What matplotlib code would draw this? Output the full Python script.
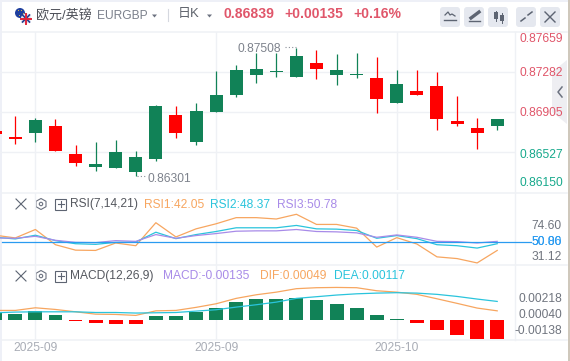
import matplotlib
matplotlib.use('Agg')
import matplotlib.pyplot as plt
from matplotlib.patches import Circle, FancyBboxPatch, Polygon, Rectangle

plt.rcParams['font.family'] = ['Liberation Sans', 'Noto Sans CJK SC', 'DejaVu Sans']

# Candles, index -1 is the one cut off at the left edge
days = list(range(-1, 25))
opens = [0.86726, 0.86673, 0.86707, 0.86773, 0.86509, 0.86387, 0.86377, 0.86339, 0.86462, 0.86877, 0.86622, 0.86905, 0.87065,
         0.87254, 0.87282, 0.87235, 0.87367, 0.87254, 0.87254, 0.87225, 0.86990, 0.87103, 0.87150, 0.86820, 0.86754, 0.86773]
closes = [0.86701, 0.86651, 0.86830, 0.86537, 0.86424, 0.86415, 0.86528, 0.86481, 0.86962, 0.86707, 0.86914, 0.87065, 0.87301,
          0.87310, 0.87291, 0.87433, 0.87310, 0.87301, 0.87263, 0.87028, 0.87169, 0.87065, 0.86839, 0.86792, 0.86707, 0.86839]
highs = [0.86726, 0.86867, 0.86852, 0.86839, 0.86594, 0.86622, 0.86641, 0.86537, 0.86971, 0.86962, 0.86990, 0.87291, 0.87348,
         0.87461, 0.87461, 0.87508, 0.87489, 0.87452, 0.87461, 0.87423, 0.87301, 0.87301, 0.87282, 0.87056, 0.86848, 0.86839]
lows = [0.86701, 0.86603, 0.86622, 0.86537, 0.86396, 0.86349, 0.86377, 0.86301, 0.86443, 0.86660, 0.86594, 0.86905, 0.87046,
        0.87178, 0.87235, 0.87235, 0.87216, 0.87159, 0.87225, 0.86896, 0.86990, 0.87065, 0.86735, 0.86773, 0.86556, 0.86735]

# RSI
rsi1 = [59.5, 55.7, 67.5, 46.2, 38.6, 38.2, 48.6, 44.8, 77.0, 57.1, 68.4, 75.5, 84.1,
        84.1, 82.2, 88.8, 74.6, 74.6, 69.4, 42.9, 56.1, 47.2, 29.2, 26.8, 20.7, 38.2]
rsi2 = [56.6, 54.3, 59.5, 51.9, 47.6, 46.7, 49.5, 50.0, 63.7, 54.7, 60.4, 64.7, 69.9,
        69.9, 69.9, 73.2, 68.4, 68.0, 66.1, 55.2, 59.0, 54.7, 46.2, 44.8, 41.5, 47.6]
rsi3 = [55.7, 55.2, 58.0, 52.4, 49.5, 49.1, 51.9, 50.9, 60.4, 55.2, 59.0, 61.8, 65.1,
        65.6, 65.6, 67.5, 64.7, 64.2, 62.8, 56.6, 59.9, 56.6, 50.9, 50.5, 48.6, 50.9]

# MACD
dif = [0.00070, 0.00070, 0.00089, 0.00077, 0.00060, 0.00043, 0.00041, 0.00034, 0.00067, 0.00070, 0.00092, 0.00118, 0.00157,
       0.00183, 0.00202, 0.00227, 0.00234, 0.00236, 0.00234, 0.00212, 0.00202, 0.00186, 0.00154, 0.00121, 0.00087, 0.00067]
dea = [0.00053, 0.00058, 0.00060, 0.00060, 0.00060, 0.00055, 0.00055, 0.00051, 0.00053, 0.00055, 0.00065, 0.00075, 0.00094,
       0.00111, 0.00130, 0.00157, 0.00169, 0.00181, 0.00190, 0.00195, 0.00198, 0.00195, 0.00186, 0.00171, 0.00152, 0.00135]
hist = [0.00048, 0.00046, 0.00065, 0.00036, -0.00005, -0.00022, -0.00027, -0.00027, 0.00031, 0.00031, 0.00060, 0.00087, 0.00130,
        0.00152, 0.00152, 0.00159, 0.00145, 0.00116, 0.00087, 0.00036, 0.00007, -0.00022, -0.00072, -0.00108, -0.00137, -0.00137]

price_labels = ['0.87659', '0.87282', '0.86905', '0.86527', '0.86150']
rsi_labels = ['74.60', '50.00', '50.86', '31.12']
macd_labels = ['0.00218', '0.00040', '-0.00138']
date_labels = ['2025-09', '2025-09', '2025-10']
date_days = [1, 10, 19]
grid_prices = [0.87282, 0.86905, 0.86527]

GREEN = '#118257'
RED = '#ff0000'
UP_TXT = '#e0566a'
DOWN_TXT = '#17a98c'
GREY = '#70757f'
LINE = '#eff1f5'
ORANGE = '#f7a660'
CYAN = '#2ac4dc'
PURPLE = '#a88be8'
BLUE = '#2a9bf0'
ICON = '#5d6472'

W, H = 570, 361
fig = plt.figure(figsize=(W / 100, H / 100), dpi=100)


def pixel_layer(order):
    a = fig.add_axes([0, 0, 1, 1], zorder=order)
    a.set_xlim(0, W)
    a.set_ylim(H, 0)
    a.axis('off')
    return a


def pane(top, bottom):
    ax = fig.add_axes([0, 1 - bottom / H, 515 / W, (bottom - top) / H], zorder=1)
    ax.patch.set_alpha(0)
    ax.set_xlim(-0.762, 24.886)
    ax.set_xticks([])
    ax.set_yticks([])
    for s in ax.spines.values():
        s.set_visible(False)
    for d in date_days:
        ax.axvline(d, color=LINE, lw=1, zorder=0)
    return ax


# background layer and top layer in pixels, for the header and the labels
bg = pixel_layer(0)
fg = pixel_layer(2)
bg.add_patch(Rectangle((0, 0), 1.5, H, color='#eef0f7', lw=0))
bg.add_patch(Rectangle((0, 0), W, 1.5, color='#eef0f7', lw=0))
bg.add_patch(Rectangle((567.5, 0), 2.5, H, color='#cfc8bc', lw=0))
for y in [32, 193, 265, 339.5]:
    bg.plot([1.5, 567], [y, y], color=LINE, lw=1.1)
bg.plot([515, 515], [32, 339.5], color=LINE, lw=1)
bg.add_patch(Polygon([(567, 60), (552, 72), (552, 112), (567, 124)], color='#eeeef2', lw=0))
bg.plot([562, 558, 562], [87, 92, 97], color='#6c7280', lw=1.1)


def label(x, y, s, color=GREY, px=12, ha='left', weight='normal'):
    fg.text(x, y, s, color=color, fontsize=px * 0.72, ha=ha, va='center', fontweight=weight)


# header
bg.add_patch(Circle((20, 13), 5, color='#1f3f9e', lw=0))
bg.scatter([18, 21, 23, 19], [10, 9.5, 13, 15], s=0.6, color='#e8c640', lw=0)
bg.add_patch(Circle((26, 18.5), 5, color='#e4e6f2', lw=0, zorder=3))
bg.plot([22.5, 29.5], [15, 22], color='#27408f', lw=1.2, zorder=4)
bg.plot([22.5, 29.5], [22, 15], color='#27408f', lw=1.2, zorder=4)
bg.plot([21, 31], [18.5, 18.5], color='#e0243a', lw=1.4, zorder=5)
bg.plot([26, 26], [13.5, 23.5], color='#e0243a', lw=1.4, zorder=5)
label(36, 15, '欧元/英镑', '#4c4f57', 13)
label(97, 16, 'EURGBP', '#7b808b', 12)
bg.add_patch(Polygon([(152, 14.5), (157, 14.5), (154.5, 17.5)], color='#6c7280', lw=0))
bg.plot([168, 168], [9, 21], color='#d5d8df', lw=0.8)
label(178, 14.5, '日K', '#5f636c', 13)
bg.add_patch(Polygon([(207, 14.5), (212, 14.5), (209.5, 17.5)], color='#6c7280', lw=0))
label(223, 14.5, '0.86839', UP_TXT, 14, weight='bold')
label(284, 14.5, '+0.00135', UP_TXT, 14, weight='bold')
label(353, 14.5, '+0.16%', UP_TXT, 14, weight='bold')

# toolbar buttons
for x0 in [440, 464, 488, 516, 540]:
    bg.add_patch(FancyBboxPatch((x0 + 3, 10), 14, 14, boxstyle='round,pad=3', color='#e5e8ef', lw=0))
bg.plot([445, 448, 450, 452, 455], [15, 12, 15, 14, 16], color=ICON, lw=0.9)
bg.plot([444, 456], [20, 20], color=ICON, lw=1)
bg.plot([471, 479], [18, 12], color=ICON, lw=2.4)
bg.plot([469, 480], [21, 21], color=ICON, lw=1)
bg.add_patch(Rectangle((494, 12), 3.5, 7, color=ICON, lw=0))
bg.add_patch(Rectangle((500, 15), 3.5, 6, color=ICON, lw=0))
bg.plot([495.7, 495.7], [10.5, 20.5], color=ICON, lw=0.7)
bg.plot([501.7, 501.7], [13, 23], color=ICON, lw=0.7)
bg.plot([521, 525], [21, 18], color=ICON, lw=1.1)
bg.plot([528, 532], [15, 12], color=ICON, lw=1.1)
bg.plot([545, 555], [12, 22], color=ICON, lw=1)
bg.plot([545, 555], [22, 12], color=ICON, lw=1)

# main pane
ax = pane(32, 190)
ax.set_ylim(0.86170, 0.87659)
for p in grid_prices:
    ax.axhline(p, color=LINE, lw=1, zorder=0)
for d, o, c, hi, lo in zip(days, opens, closes, highs, lows):
    col = GREEN if c > o else RED
    ax.plot([d, d], [lo, hi], color=col, lw=0.9, zorder=2, solid_capstyle='butt')
    ax.bar(d, max(abs(c - o), 0.00003), bottom=min(o, c), width=0.647, color=col, zorder=3)

label(238, 49, '0.87508', '#7d828c')
label(148, 178.6, '0.86301', '#7d828c')
bg.plot([137, 147], [176, 176], color='#8a8f98', lw=0.8, ls=(0, (1, 2)))
bg.plot([285, 296], [47, 47], color='#8a8f98', lw=0.8, ls=(0, (1, 2)))

for s, y, col in zip(price_labels, [39, 73.5, 113.5, 154.5, 183.5], [UP_TXT, UP_TXT, UP_TXT, DOWN_TXT, DOWN_TXT]):
    label(563, y, s, col, ha='right')


def row_icons(y):
    bg.plot([16, 26], [y - 5, y + 5], color=ICON, lw=0.8)
    bg.plot([16, 26], [y + 5, y - 5], color=ICON, lw=0.8)
    bg.add_patch(Polygon([(41, y - 5.5), (46, y - 2.7), (46, y + 2.7), (41, y + 5.5), (36, y + 2.7), (36, y - 2.7)],
                         fill=False, ec='#6c7280', lw=0.8))
    bg.add_patch(Circle((41, y), 1.7, fill=False, ec='#6c7280', lw=0.8))
    bg.add_patch(Rectangle((55, y - 5.5), 11, 11, fill=False, ec=ICON, lw=0.8))
    bg.plot([57.5, 63.5], [y, y], color=ICON, lw=0.8)
    bg.plot([60.5, 60.5], [y - 3, y + 3], color=ICON, lw=0.8)


# RSI pane
ax_rsi = pane(193, 265)
ax_rsi.set_ylim(17.8, 118.6)
ax_rsi.plot(days, rsi1, color=ORANGE, lw=0.9)
ax_rsi.plot(days, rsi2, color=CYAN, lw=0.9)
ax_rsi.plot(days, rsi3, color=PURPLE, lw=0.9)
fg.plot([1.5, 531], [242.3, 242.3], color=BLUE, lw=0.9)

row_icons(204)
label(70, 204.5, 'RSI(7,14,21)', '#55585f')
label(144, 204.5, 'RSI1:42.05', ORANGE)
label(210, 204.5, 'RSI2:48.37', CYAN)
label(277, 204.5, 'RSI3:50.78', PURPLE)
for s, y, col in zip(rsi_labels, [226, 242, 242, 257], [GREY, BLUE, BLUE, GREY]):
    label(562, y, s, col, ha='right')

# MACD pane
ax_macd = pane(265, 339.5)
ax_macd.set_ylim(-0.00140, 0.00398)
ax_macd.bar(days, hist, width=0.69, color=[GREEN if v > 0 else RED for v in hist], zorder=2)
ax_macd.plot(days, dif, color=ORANGE, lw=0.9, zorder=3)
ax_macd.plot(days, dea, color=CYAN, lw=0.9, zorder=3)

row_icons(276)
label(70, 276, 'MACD(12,26,9)', '#55585f')
label(163, 276, 'MACD:-0.00135', PURPLE)
label(260, 276, 'DIF:0.00049', ORANGE)
label(334, 276, 'DEA:0.00117', CYAN)
for s, y in zip(macd_labels, [298.7, 314.5, 331]):
    label(562, y, s, ha='right')

# dates
for d, s in zip(date_days, date_labels):
    label(15.3 + d * 20.08, 347.7, s, '#a9adb6', ha='center')

fig.savefig('out.png', dpi=100)
